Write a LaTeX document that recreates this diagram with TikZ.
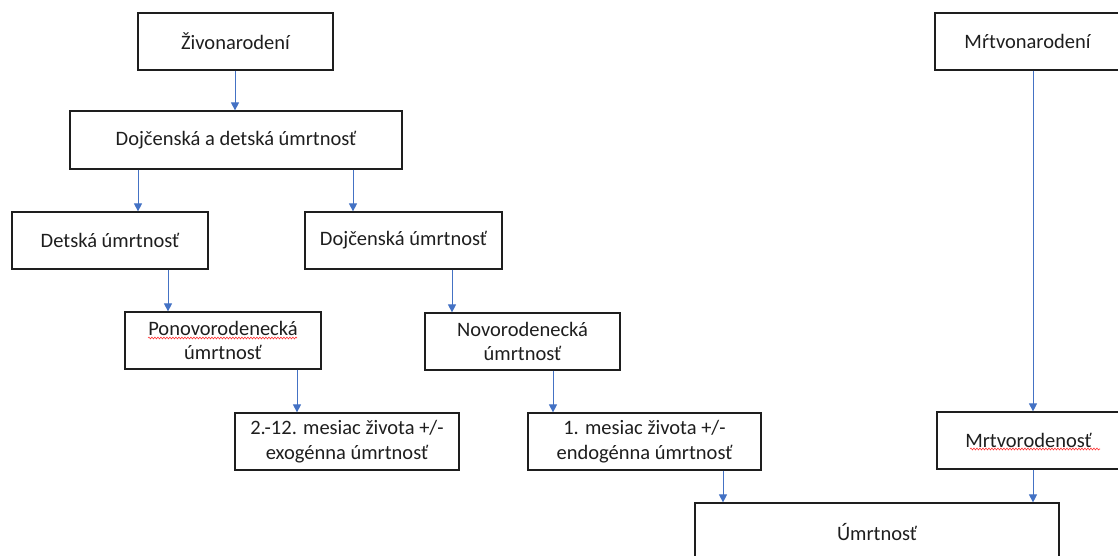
\documentclass[tikz,border=0pt]{standalone}
\usepackage{fontspec}
\setmainfont{Carlito}
\usetikzlibrary{arrows.meta,decorations.pathmorphing}
\definecolor{arrblue}{RGB}{68,114,196}
\definecolor{boxline}{RGB}{30,30,30}
\definecolor{txt}{RGB}{30,30,30}
\begin{document}
\begin{tikzpicture}[x=1pt,y=-1pt,
  box/.style={draw=boxline,line width=1.2pt,rectangle,inner sep=0pt,
    minimum height=57pt,align=center,text=txt,
    font=\fontsize{20.5}{24.5}\selectfont},
  arr/.style={draw=arrblue,line width=0.9pt,-{Triangle[width=8pt,length=8pt]}},
  squig/.style={draw=red!80,line width=0.6pt,decorate,
    decoration={snake,amplitude=0.9pt,segment length=3pt}}]
\useasboundingbox (0,0) rectangle (1118,556);
\clip (0,0) rectangle (1118,556);
\node[box,minimum width=195pt] (ziv) at (235.5,41.5) {Živonarodení};
\node[box,minimum width=185pt] (mrt) at (1027.5,41.5) {Mŕtvonarodení};
\node[box,minimum width=332pt,minimum height=58pt] (dad) at (236,140) {Dojčenská a detská úmrtnosť};
\node[box,minimum width=196pt] (det) at (110,240.5) {Detská úmrtnosť};
\node[box,minimum width=197pt] (doj) at (403.5,240.5) {Dojčenská úmrtnosť};
\node[box,minimum width=196pt] (pon) at (223,340.5) {Ponovorodenecká\\úmrtnosť};
\node[box,minimum width=195pt] (nov) at (522.5,341.5) {Novorodenecká\\úmrtnosť};
\node[box,minimum width=224pt] (m212) at (347,441.5) {2.-12. mesiac života +/-\\exogénna úmrtnosť};
\node[box,minimum width=233pt] (m1) at (644.5,441.5) {1. mesiac života +/-\\endogénna úmrtnosť};
\node[box,minimum width=183pt] (mrtv) at (1028.5,440.5) {Mrtvorodenosť};
\node[box,minimum width=364pt,minimum height=58pt] (umr) at (877,532) {Úmrtnosť};
% connectors
\draw[arr] (ziv.south -| 235,0) -- (dad.north -| 235,0);
\draw[arr] (mrt.south -| 1033,0) -- (mrtv.north -| 1033,0);
\draw[arr] (dad.south -| 138,0) -- (det.north -| 138,0);
\draw[arr] (dad.south -| 353,0) -- (doj.north -| 353,0);
\draw[arr] (det.south -| 168,0) -- (pon.north -| 168,0);
\draw[arr] (doj.south -| 452,0) -- (nov.north -| 452,0);
\draw[arr] (pon.south -| 297,0) -- (m212.north -| 297,0);
\draw[arr] (nov.south -| 553,0) -- (m1.north -| 553,0);
\draw[arr] (m1.south -| 723,0) -- (umr.north -| 723,0);
\draw[arr] (mrtv.south -| 1033,0) -- (umr.north -| 1033,0);
% spell-check underlines
\draw[squig] (148,338) -- (297,338);
\draw[squig] (970,449) -- (1100,449);
\end{tikzpicture}
\end{document}
